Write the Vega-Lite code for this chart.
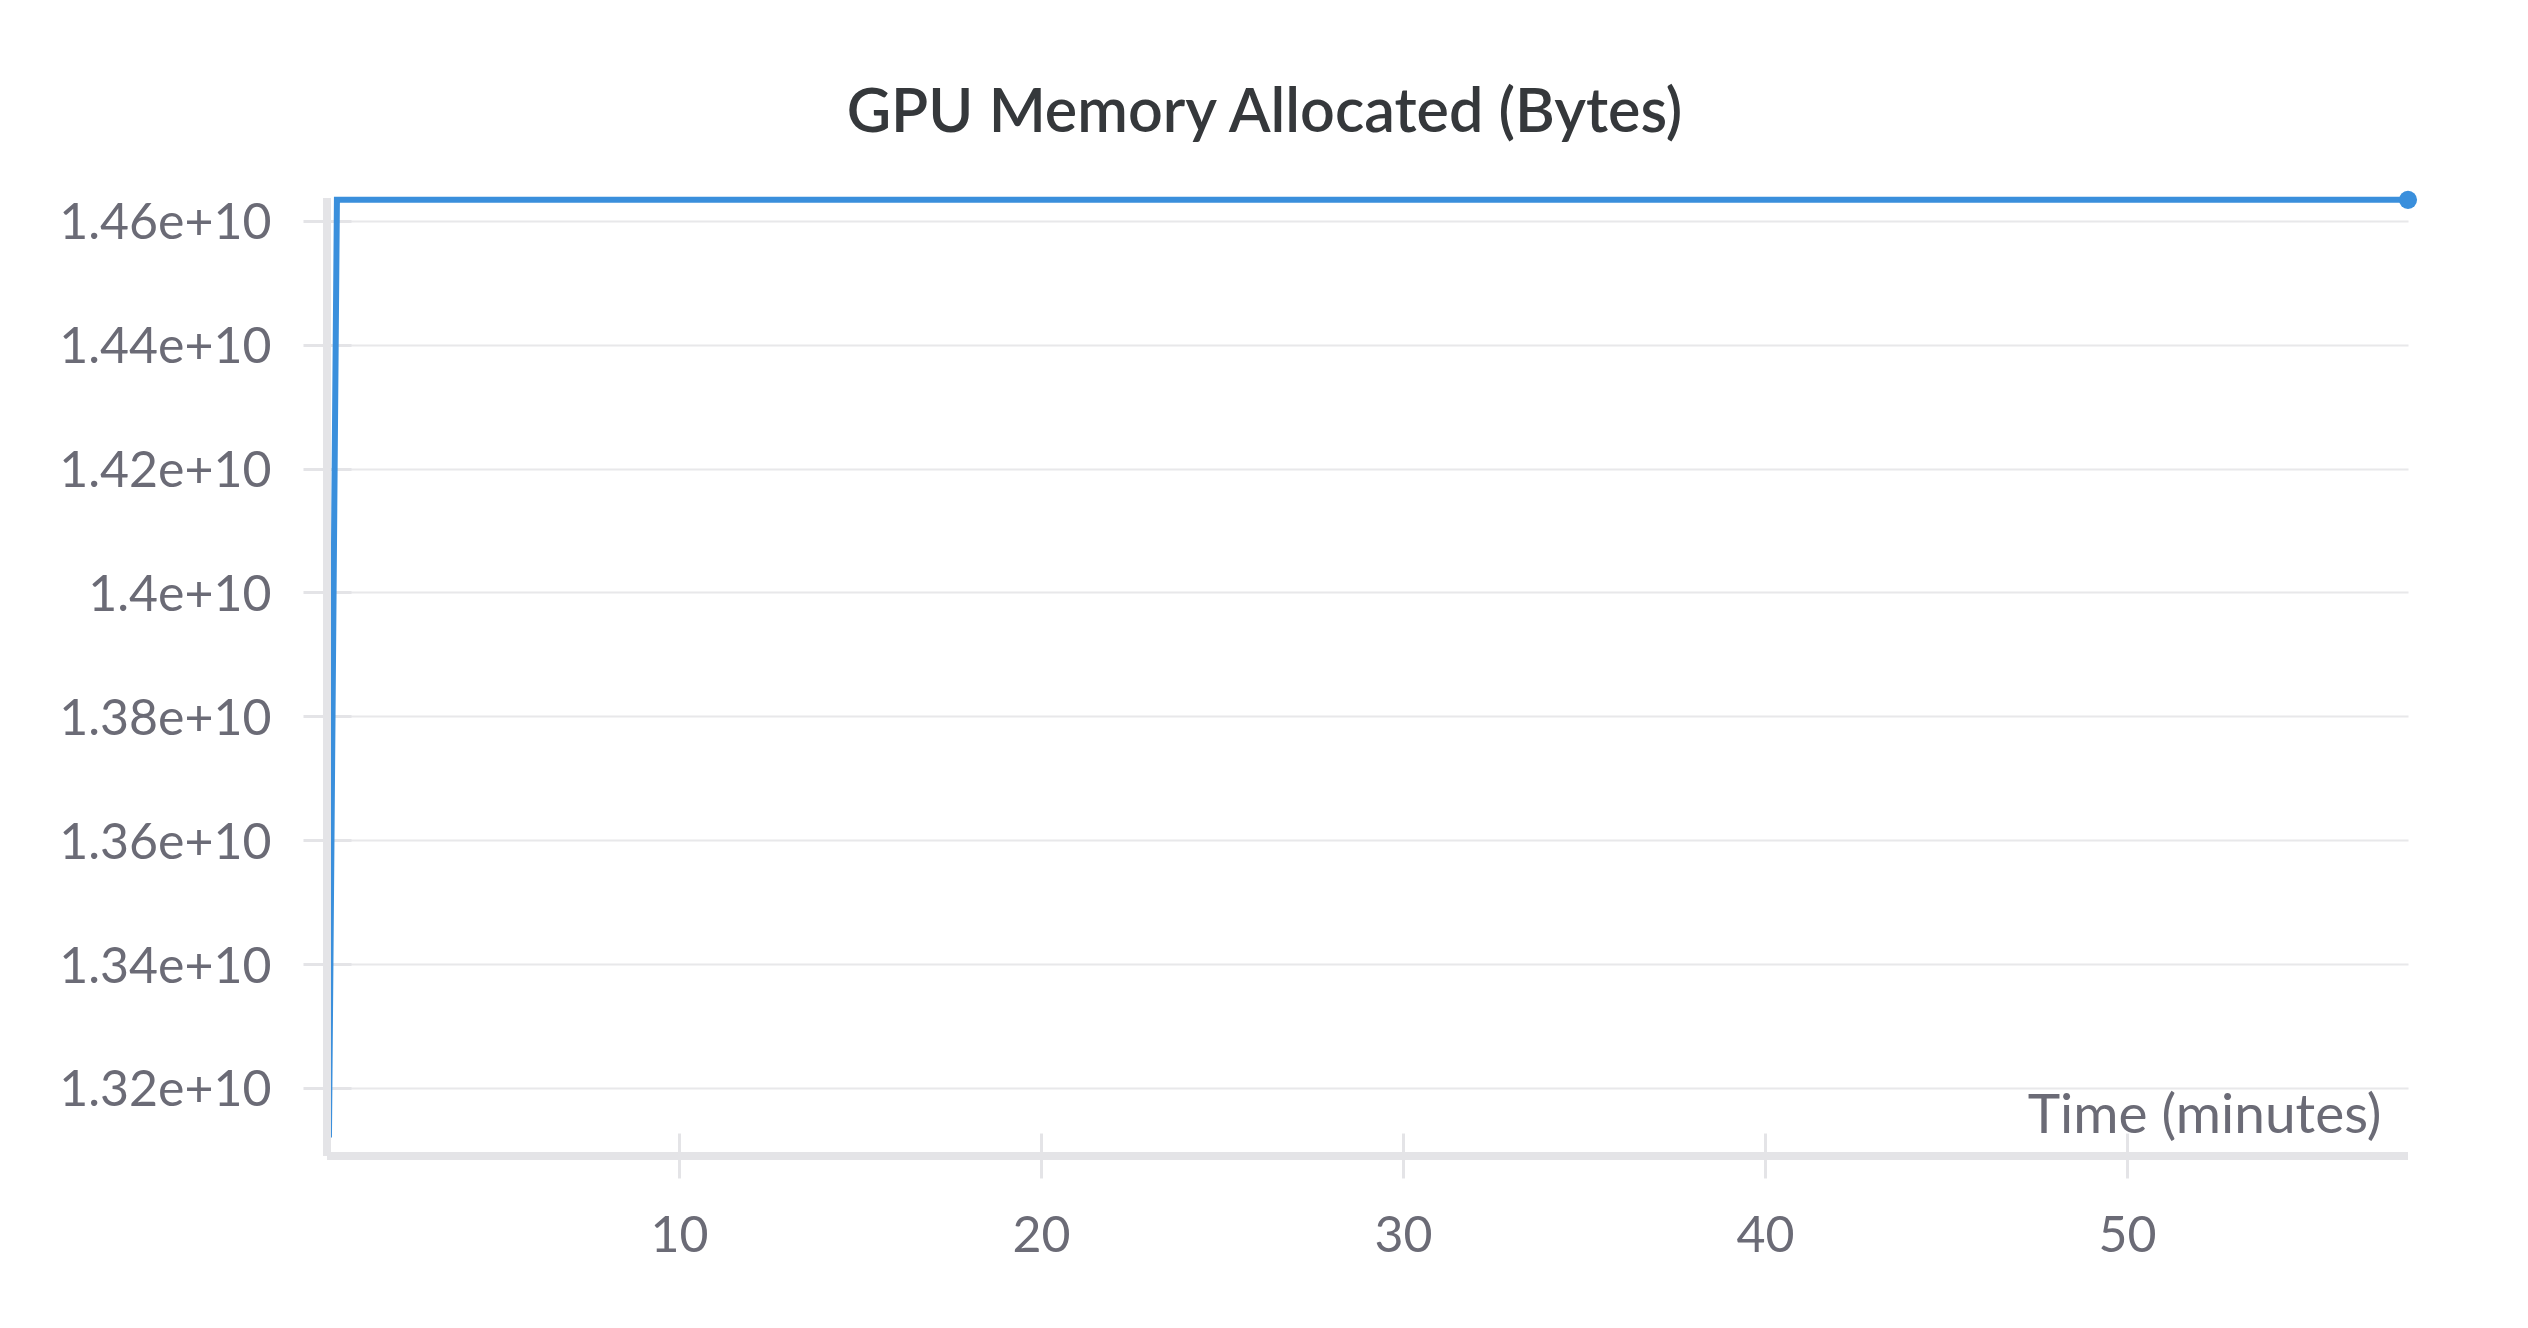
{
  "$schema": "https://vega.github.io/schema/vega-lite/v6.json",
  "autosize": {"type": "none"},
  "width": 2081,
  "height": 958,
  "padding": {"left": 327, "top": 198, "right": 120, "bottom": 172},
  "background": "white",
  "config": {
    "view": {"stroke": null},
    "font": "Lato"
  },
  "title": {
    "text": "GPU Memory Allocated (Bytes)",
    "font": "Lato",
    "fontSize": 61,
    "fontWeight": 600,
    "color": "#35383b",
    "anchor": "middle",
    "frame": "group",
    "dx": -103,
    "baseline": "alphabetic",
    "offset": -5
  },
  "data": {
    "values": [
      {"t": 0.33, "v": 13120000000},
      {"t": 0.55, "v": 14634000000},
      {"t": 10, "v": 14634000000},
      {"t": 20, "v": 14634000000},
      {"t": 30, "v": 14634000000},
      {"t": 40, "v": 14634000000},
      {"t": 50, "v": 14634000000},
      {"t": 57.76, "v": 14634000000}
    ]
  },
  "encoding": {
    "x": {
      "field": "t",
      "type": "quantitative",
      "scale": {"domain": [0.276, 57.76], "nice": false, "zero": false},
      "axis": {
        "values": [10, 20, 30, 40, 50],
        "format": "d",
        "title": "Time (minutes)",
        "titleFont": "Lato",
        "titleFontSize": 55,
        "titleFontWeight": 400,
        "titleColor": "#6b6b76",
        "titleAlign": "right",
        "titleAnchor": null,
        "titleX": 2054,
        "titleY": -1,
        "titleBaseline": "alphabetic",
        "domain": false,
        "offset": -23,
        "grid": false,
        "ticks": true,
        "tickSize": 45,
        "tickWidth": 3,
        "tickColor": "#e4e4e7",
        "labelFont": "Lato",
        "labelFontSize": 50,
        "labelColor": "#6b6b76",
        "labelBaseline": "middle",
        "labelPadding": 58
      }
    },
    "y": {
      "field": "v",
      "type": "quantitative",
      "scale": {"domain": [13090000000, 14637000000], "nice": false, "zero": false},
      "axis": {
        "values": [13200000000, 13400000000, 13600000000, 13800000000, 14000000000, 14200000000, 14400000000, 14600000000],
        "format": ".3~e",
        "title": null,
        "domain": false,
        "offset": -24,
        "grid": true,
        "gridColor": "#e8e8ea",
        "gridWidth": 2,
        "ticks": true,
        "tickSize": 48,
        "tickWidth": 3,
        "tickColor": "#e4e4e7",
        "labelFont": "Lato",
        "labelFontSize": 50,
        "labelColor": "#6b6b76",
        "labelLimit": 0,
        "labelOffset": 3,
        "labelPadding": 32
      }
    }
  },
  "layer": [
    {
      "mark": {"type": "line", "color": "#3a8fdc", "strokeWidth": 6, "interpolate": "linear"}
    },
    {
      "transform": [{"filter": {"field": "t", "gte": 57.7}}],
      "mark": {"type": "point", "filled": true, "color": "#3a8fdc", "size": 330, "opacity": 1}
    },
    {
      "mark": {"type": "rule", "color": "#e4e4e7", "strokeWidth": 8},
      "encoding": {"x": {"datum": 0.276, "type": "quantitative"}, "y": null}
    },
    {
      "mark": {"type": "rule", "color": "#e4e4e7", "strokeWidth": 8},
      "encoding": {"y": {"datum": 13090000000, "type": "quantitative"}, "x": null}
    }
  ]
}
